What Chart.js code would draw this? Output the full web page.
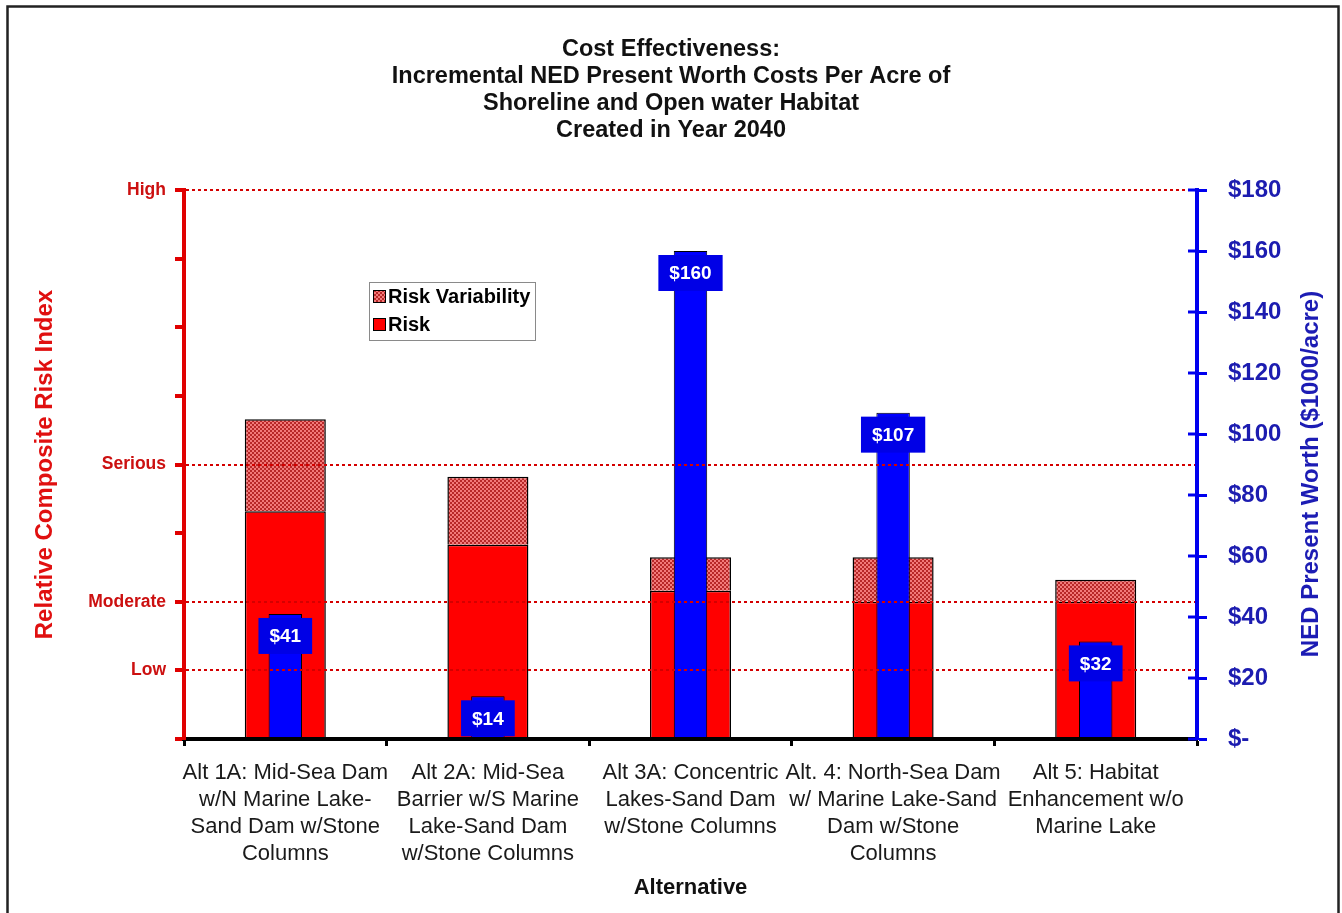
<!DOCTYPE html>
<html>
<head>
<meta charset="utf-8">
<title>Cost Effectiveness</title>
<script src="https://cdn.jsdelivr.net/npm/chart.js@4.4.1/dist/chart.umd.min.js"></script>
<style>
    html, body { margin: 0; padding: 0; background: #fff; }
    #wrap { position: relative; width: 1342px; height: 913px; }
</style>
</head>
<body>
<div id="wrap"><canvas id="costChart" width="1342" height="913"></canvas></div>
<script>
// Datos
const alternatives = [
    ['Alt 1A: Mid-Sea Dam', 'w/N Marine Lake-', 'Sand Dam w/Stone', 'Columns'],
    ['Alt 2A: Mid-Sea', 'Barrier w/S Marine', 'Lake-Sand Dam', 'w/Stone Columns'],
    ['Alt 3A: Concentric', 'Lakes-Sand Dam', 'w/Stone Columns'],
    ['Alt. 4: North-Sea Dam', 'w/ Marine Lake-Sand', 'Dam w/Stone', 'Columns'],
    ['Alt 5: Habitat', 'Enhancement w/o', 'Marine Lake']
];
const risk = [3.32, 2.83, 2.16, 2.0, 2.0];
const riskVariability = [1.34, 0.99, 0.49, 0.65, 0.32];
const presentWorth = [41, 14, 160, 107, 32];
const riskTickLabels = ['', 'Low', 'Moderate', '', 'Serious', '', '', '', 'High'];
const riskGridLevels = [1, 2, 4, 8];

const FONT = '"Liberation Sans", Arial, sans-serif';
Chart.defaults.font.family = FONT;

// Trama para la variabilidad del riesgo
function makeHatch() {
    const c = document.createElement('canvas');
    c.width = 4; c.height = 4;
    const g = c.getContext('2d');
    g.fillStyle = '#f27a7a';
    g.fillRect(0, 0, 4, 4);
    g.fillStyle = '#b82828';
    g.fillRect(0, 0, 2, 2);
    g.fillRect(2, 2, 2, 2);
    return g.createPattern(c, 'repeat');
}
const hatch = makeHatch();

const legendBox = { x: 369, y: 282, w: 166, h: 58 };

const extrasPlugin = {
    id: 'extras',
    beforeDraw(chart) {
        const ctx = chart.ctx;
        ctx.save();
        ctx.fillStyle = '#fff';
        ctx.fillRect(0, 0, chart.width, chart.height);
        ctx.restore();
    },
    afterDraw(chart) {
        const ctx = chart.ctx;
        const area = chart.chartArea;
        const y1 = chart.scales.y1;
        ctx.save();

        // marco exterior
        ctx.strokeStyle = '#222';
        ctx.lineWidth = 2.5;
        ctx.strokeRect(7.5, 6.5, chart.width - 11, chart.height + 10);

        // marcas interiores del eje derecho
        ctx.strokeStyle = '#0000ee';
        ctx.lineWidth = 3;
        y1.ticks.forEach(t => {
            const py = y1.getPixelForValue(t.value);
            ctx.beginPath();
            ctx.moveTo(area.right - 9, py);
            ctx.lineTo(area.right, py);
            ctx.stroke();
        });

        // título del eje derecho (de abajo hacia arriba)
        ctx.fillStyle = '#1c1cb4';
        ctx.font = 'bold 24px ' + FONT;
        ctx.textAlign = 'center';
        ctx.textBaseline = 'middle';
        ctx.translate(1311, 474);
        ctx.rotate(-Math.PI / 2);
        ctx.fillText('NED Present Worth ($1000/acre)', 0, 0);
        ctx.setTransform(1, 0, 0, 1, 0, 0);

        // etiquetas de valor sobre las barras azules
        const meta = chart.getDatasetMeta(0);
        ctx.font = 'bold 19px ' + FONT;
        meta.data.forEach((bar, i) => {
            const text = '$' + presentWorth[i];
            const w = ctx.measureText(text).width + 22;
            const h = 36;
            const top = bar.y + 4;
            ctx.fillStyle = '#0000e6';
            ctx.fillRect(bar.x - w / 2, top, w, h);
            ctx.fillStyle = '#fff';
            ctx.fillText(text, bar.x, top + h / 2 + 1);
        });

        // leyenda
        ctx.fillStyle = '#fff';
        ctx.fillRect(legendBox.x, legendBox.y, legendBox.w, legendBox.h);
        ctx.strokeStyle = '#8a8a8a';
        ctx.lineWidth = 1;
        ctx.strokeRect(legendBox.x + 0.5, legendBox.y + 0.5, legendBox.w, legendBox.h);
        const items = [
            { label: chart.data.datasets[2].label, fill: hatch, cy: legendBox.y + 14 },
            { label: chart.data.datasets[1].label, fill: '#ff0000', cy: legendBox.y + 42 }
        ];
        ctx.font = 'bold 20px ' + FONT;
        ctx.textAlign = 'left';
        items.forEach(it => {
            ctx.fillStyle = it.fill;
            ctx.fillRect(legendBox.x + 4, it.cy - 6, 13, 13);
            ctx.strokeStyle = '#000';
            ctx.strokeRect(legendBox.x + 4.5, it.cy - 5.5, 12, 12);
            ctx.fillStyle = '#000';
            ctx.fillText(it.label, legendBox.x + 19, it.cy + 1);
        });

        ctx.restore();
    }
};

const chart = new Chart(document.getElementById('costChart').getContext('2d'), {
    type: 'bar',
    data: {
        labels: alternatives,
        datasets: [
            {
                label: 'NED Present Worth',
                data: presentWorth,
                yAxisID: 'y1',
                stack: 'cost',
                order: 0,
                grouped: false,
                backgroundColor: '#0000ff',
                borderColor: '#000',
                borderWidth: 1,
                categoryPercentage: 1,
                barPercentage: 0.165
            },
            {
                label: 'Risk',
                data: risk,
                yAxisID: 'y',
                stack: 'risk',
                order: 1,
                grouped: false,
                backgroundColor: '#ff0000',
                borderColor: '#000',
                borderWidth: 1.5,
                categoryPercentage: 1,
                barPercentage: 0.4
            },
            {
                label: 'Risk Variability',
                data: riskVariability,
                yAxisID: 'y',
                stack: 'risk',
                order: 1,
                grouped: false,
                backgroundColor: hatch,
                borderColor: '#000',
                borderWidth: 1.5,
                categoryPercentage: 1,
                barPercentage: 0.4
            }
        ]
    },
    options: {
        responsive: false,
        animation: false,
        layout: { padding: 0 },
        plugins: {
            legend: { display: false },
            tooltip: { enabled: false },
            title: {
                display: true,
                text: [
                    'Cost Effectiveness:',
                    'Incremental NED Present Worth Costs Per Acre of',
                    'Shoreline and Open water Habitat',
                    'Created in Year 2040'
                ],
                color: '#111',
                font: { size: 23.5, weight: 'bold', lineHeight: '27px' },
                padding: { top: 36.5, bottom: 45.5 }
            }
        },
        scales: {
            x: {
                offset: true,
                grid: {
                    drawOnChartArea: false,
                    offset: true,
                    tickLength: 7,
                    tickColor: '#000',
                    tickWidth: 3
                },
                border: { color: '#000', width: 4, z: 1 },
                ticks: {
                    color: '#1a1a1a',
                    font: { size: 22, lineHeight: '27px' },
                    padding: 13,
                    maxRotation: 0,
                    autoSkip: false
                },
                title: {
                    display: true,
                    text: 'Alternative',
                    color: '#111',
                    font: { size: 22, weight: 'bold' },
                    padding: { bottom: 12 }
                },
                afterFit: s => { s.height = 174; }
            },
            y: {
                position: 'left',
                stacked: true,
                min: 0,
                max: 8,
                ticks: {
                    stepSize: 1,
                    autoSkip: false,
                    callback: v => riskTickLabels[v],
                    color: '#cc1010',
                    font: { size: 17.5, weight: 'bold' },
                    padding: 9
                },
                grid: {
                    z: 1,
                    color: c => riskGridLevels.includes(c.tick.value) ? '#d40000' : 'rgba(0,0,0,0)',
                    lineWidth: 2,
                    tickColor: '#e00000',
                    tickWidth: 4,
                    tickLength: 9
                },
                border: { color: '#e00000', width: 4, dash: [3, 3], z: 1 },
                title: {
                    display: true,
                    text: 'Relative Composite Risk Index',
                    color: '#e01010',
                    font: { size: 24, weight: 'bold' },
                    padding: { top: 31 }
                },
                afterFit: s => { s.width = 184; }
            },
            y1: {
                position: 'right',
                min: 0,
                max: 180,
                ticks: {
                    stepSize: 20,
                    callback: v => v === 0 ? '$-' : '$' + v,
                    color: '#1c1cb0',
                    font: { size: 24, weight: 'bold' },
                    padding: 21
                },
                grid: {
                    drawOnChartArea: false,
                    tickColor: '#0000ee',
                    tickWidth: 3,
                    tickLength: 10
                },
                border: { color: '#0000ee', width: 4, z: 1 },
                afterFit: s => { s.width = 145; }
            }
        }
    },
    plugins: [extrasPlugin]
});
</script>
</body>
</html>
